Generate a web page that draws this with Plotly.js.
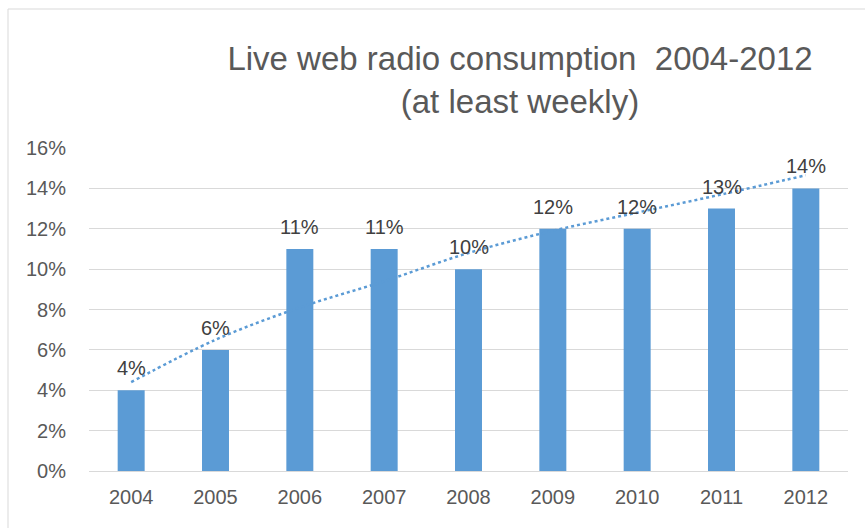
<!DOCTYPE html>
<html>
<head>
<meta charset="utf-8">
<script src="https://cdn.plot.ly/plotly-3.0.1.min.js"></script>
<style>
  html, body { margin: 0; padding: 0; background: #ffffff; }
  #chart { width: 865px; height: 528px; }
</style>
</head>
<body>
<div id="chart"></div>
<script>
const years = ['2004', '2005', '2006', '2007', '2008', '2009', '2010', '2011', '2012'];
const consumption = [4, 6, 11, 11, 10, 12, 12, 13, 14];
const trendValues = [4.4, 6.5, 8.1, 9.4, 10.8, 11.9, 12.8, 13.7, 14.65];
const dataLabels = ['4%', '6%', '11%', '11%', '10%', '12%', '12%', '13%', '14%'];
const yTickValues = [0, 2, 4, 6, 8, 10, 12, 14, 16];
const yTickLabels = ['0%', '2%', '4%', '6%', '8%', '10%', '12%', '14%', '16%'];

const barColor = '#5B9BD5';
const fontFamily = 'Arial, "Liberation Sans", sans-serif';

const bars = {
  type: 'bar',
  x: years,
  y: consumption,
  marker: { color: barColor },
  hoverinfo: 'x+y',
  showlegend: false
};

const trend = {
  type: 'scatter',
  mode: 'lines',
  x: years,
  y: trendValues,
  line: { color: barColor, width: 2.5, dash: 'dot', shape: 'spline' },
  hoverinfo: 'skip',
  showlegend: false
};

const labelAnnotations = years.map((yr, i) => ({
  x: i,
  y: consumption[i],
  xref: 'x',
  yref: 'y',
  text: dataLabels[i],
  showarrow: false,
  yanchor: 'bottom',
  yshift: 9,
  font: { family: fontFamily, size: 20, color: '#404040' }
}));

const layout = {
  width: 865,
  height: 528,
  paper_bgcolor: '#ffffff',
  plot_bgcolor: '#ffffff',
  margin: { l: 89, r: 17, t: 148, b: 57 },
  font: { family: fontFamily, color: '#595959' },
  title: {
    text: 'Live web radio consumption  2004-2012<br>(at least weekly)',
    font: { family: fontFamily, size: 33, color: '#595959' },
    xref: 'container',
    yref: 'container',
    x: 520 / 865,
    xanchor: 'center',
    y: 1 - 70 / 528,
    yanchor: 'top'
  },
  bargap: 0.68,
  xaxis: {
    type: 'category',
    range: [-0.5, 8.5],
    showgrid: false,
    showline: false,
    ticks: '',
    tickfont: { family: fontFamily, size: 20, color: '#595959' },
    ticklabelstandoff: 12
  },
  yaxis: {
    range: [0, 16],
    tickvals: yTickValues,
    ticktext: yTickLabels,
    showgrid: true,
    gridcolor: '#D9D9D9',
    gridwidth: 1,
    zeroline: true,
    zerolinecolor: '#D9D9D9',
    zerolinewidth: 1,
    showline: false,
    ticks: '',
    tickfont: { family: fontFamily, size: 20, color: '#595959' },
    ticklabelstandoff: 22
  },
  shapes: [
    {
      type: 'line', xref: 'paper', yref: 'paper',
      x0: (8 - 89) / 759, x1: (8 - 89) / 759,
      y0: (471 - 9) / 323, y1: -0.2,
      line: { color: '#D9D9D9', width: 1 }
    },
    {
      type: 'line', xref: 'paper', yref: 'paper',
      x0: (8 - 89) / 759, x1: 1.05,
      y0: (471 - 9) / 323, y1: (471 - 9) / 323,
      line: { color: '#D9D9D9', width: 1 }
    }
  ],
  annotations: labelAnnotations
};

Plotly.newPlot('chart', [bars, trend], layout, { displayModeBar: false, staticPlot: true });
</script>
</body>
</html>
